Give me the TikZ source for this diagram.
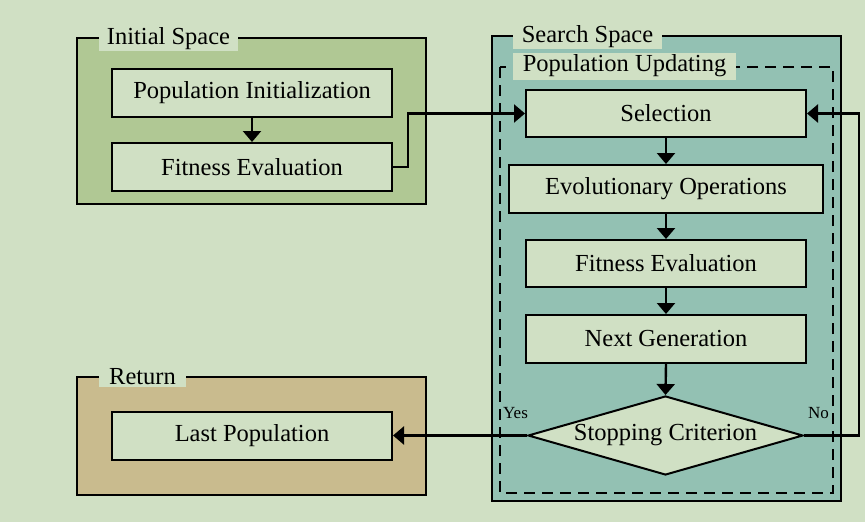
\documentclass[tikz,border=0pt]{standalone}
\usepackage{fontspec}
\setmainfont{Liberation Serif}
\usetikzlibrary{shapes.geometric,arrows.meta}
\definecolor{bg}{RGB}{208,224,196}
\definecolor{initfill}{RGB}{176,200,148}
\definecolor{searchfill}{RGB}{147,193,179}
\definecolor{retfill}{RGB}{201,187,142}
\tikzset{
  grp/.style={draw=black, line width=2pt},
  box/.style={draw=black, fill=bg, line width=2pt, inner sep=0pt,
    font=\fontsize{24.5}{28}\selectfont, minimum width=280pt, minimum height=48pt},
  lbl/.style={fill=bg, inner sep=0pt, font=\fontsize{24.5}{28}\selectfont},
  small/.style={inner sep=0pt, font=\fontsize{17}{19}\selectfont},
  arr/.style={draw=black, line width=2.4pt, -{Triangle[length=11pt,width=18pt]}}
}
\begin{document}
\begin{tikzpicture}[x=1pt,y=-1pt]
\useasboundingbox[fill=bg] (0,0) rectangle (865,522);
% group frames
\draw[grp, fill=initfill] (77,38) rectangle (426,204);
\draw[grp, fill=searchfill] (492,36) rectangle (841,501);
\draw[line width=2pt, dash pattern=on 11pt off 7pt] (500,67) rectangle (833,493);
\draw[grp, fill=retfill] (77,377) rectangle (426,495);
% group labels
\node[lbl, minimum width=139pt, minimum height=23pt] (lInit) at (168.5,39) {Initial Space};
\node[lbl, minimum width=149pt, minimum height=25pt] (lSearch) at (587.5,36.5) {Search Space};
\node[lbl, minimum width=223pt, minimum height=27pt] (lUpd) at (624.5,66) {Population Updating};
\node[lbl, minimum width=87pt, minimum height=21pt] (lRet) at (142.5,376.5) {Return};
% boxes
\node[box] (pi) at (252,93) {Population Initialization};
\node[box] (fe1) at (252,167) {Fitness Evaluation};
\node[box, minimum height=47pt] (sel) at (666,113.5) {Selection};
\node[box, minimum width=314pt] (evo) at (666,189) {Evolutionary Operations};
\node[box, minimum height=47pt] (fe2) at (666,263.5) {Fitness Evaluation};
\node[box] (ng) at (666,339) {Next Generation};
\node[box, diamond, aspect=3.48, minimum width=275pt, minimum height=79pt] (sc) at (665.5,435.5) {Stopping Criterion};
\node[box] (lp) at (252,435.5) {Last Population};
% yes / no
\node[small] (yes) at (515.5,413) {Yes};
\node[small] (no) at (818.5,413) {No};
% connectors
\draw[arr] (pi.south) -- (fe1.north);
\draw[arr] (fe1.east) -- ++(15,0) |- (sel.west);
\draw[arr] (sel.south) -- (evo.north);
\draw[arr] (evo.south) -- (fe2.north);
\draw[arr] (fe2.south) -- (ng.north);
\draw[arr] (ng.south) -- (sc.north);
\draw[arr] (sc.east) -- ++(55,0) |- (sel.east);
\draw[arr] (sc.west) -- (lp.east);
\end{tikzpicture}
\end{document}
